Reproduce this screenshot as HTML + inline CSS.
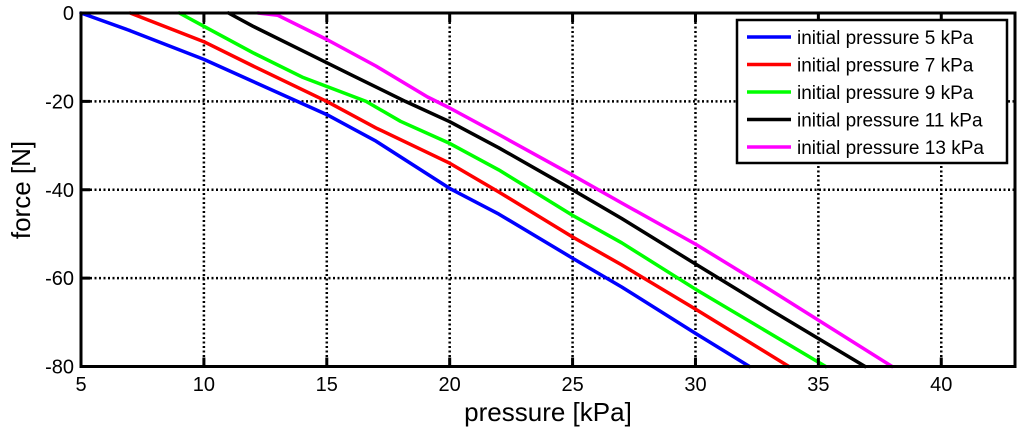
<!DOCTYPE html>
<html><head><meta charset="utf-8"><style>
html,body{margin:0;padding:0;background:#fff;}
svg{display:block;font-family:"Liberation Sans",Arial,sans-serif;}
</style></head><body>
<svg id="chart" width="1024" height="433">
<g id="grid"></g>
<g id="series"></g>
<g id="axes"></g>
<text x="548" y="421" font-size="26" text-anchor="middle">pressure [kPa]</text>
<text transform="translate(30,190) rotate(-90)" font-size="26" text-anchor="middle">force [N]</text>
<g id="legend"></g>
</svg>
<script>
const xTicks=[5,10,15,20,25,30,35,40];
const yTicks=[0,-20,-40,-60,-80];
const seriesNames=["initial pressure 5 kPa","initial pressure 7 kPa","initial pressure 9 kPa","initial pressure 11 kPa","initial pressure 13 kPa"];
const seriesColors=["#0000ff","#ff0000","#00ff00","#000000","#ff00ff"];
const blueX=[5,7,10,12,15,17,20,22,25,27,30,32.2];
const blueY=[0,-4,-10.5,-15.5,-23,-29,-39.7,-45.5,-55.5,-62,-72.5,-80];
const redX=[7,10,12,15,17,20,22,25,27,30,33.8];
const redY=[0,-6.5,-12,-20,-26,-34,-40.5,-50.7,-57,-67,-80];
const greenX=[9,10,12,14,16.6,18,20,22,25,27,30,35.3];
const greenY=[0,-3,-9,-14.5,-20,-24.5,-29.5,-35.5,-45.8,-52,-62.5,-80];
const blackX=[11,12,14,16,18.2,20,22,25,27,30,33,36.9];
const blackY=[0,-3,-8.5,-14,-20,-24.6,-30.5,-40,-46.5,-56.8,-67,-80];
const magentaX=[12.2,13,15,17,19.1,20,22,25,27,30,33,38];
const magentaY=[0,-0.5,-6,-12,-19,-21.5,-27.5,-36.7,-43,-52.3,-62.5,-80];
const allX=[blueX,redX,greenX,blackX,magentaX];
const allY=[blueY,redY,greenY,blackY,magentaY];
const X0=81,X1=1015,Y0=13,Y1=366.5,XMIN=5,XMAX=43,YMIN=-80,YMAX=0;
const sx=v=>X0+(v-XMIN)/(XMAX-XMIN)*(X1-X0);
const sy=v=>Y0+(YMAX-v)/(YMAX-YMIN)*(Y1-Y0);
const NS="http://www.w3.org/2000/svg";
function mk(tag,attrs,parent){const e=document.createElementNS(NS,tag);for(const k in attrs)e.setAttribute(k,attrs[k]);parent.appendChild(e);return e;}
const grid=document.getElementById('grid'),axes=document.getElementById('axes'),ser=document.getElementById('series'),leg=document.getElementById('legend');
xTicks.forEach(t=>{
  const x=sx(t);
  if(t>XMIN){const l=mk('line',{x1:x,y1:Y0,x2:x,y2:Y1,stroke:'#000','stroke-width':2.5,'stroke-dasharray':'2,2.5'},grid);
  
  
  const tk=mk('line',{x1:x,y1:Y1,x2:x,y2:Y1-9,stroke:'#000','stroke-width':3},axes);
  
  
  const tk2=mk('line',{x1:x,y1:Y0,x2:x,y2:Y0+9,stroke:'#000','stroke-width':3},axes);
  
  }
  const tx=mk('text',{x:x,y:391,'font-size':20,'text-anchor':'middle'},axes);tx.textContent=t;
  
  
});
yTicks.forEach(t=>{
  const y=sy(t);
  if(t>YMIN&&t<YMAX){const l=mk('line',{x1:X0,y1:y,x2:X1,y2:y,stroke:'#000','stroke-width':2.5,'stroke-dasharray':'2,2.5'},grid);
  
  
  const tk=mk('line',{x1:X0,y1:y,x2:X0+9,y2:y,stroke:'#000','stroke-width':3},axes);
  
  }
  const tx=mk('text',{x:X0-7,y:y+7,'font-size':20,'text-anchor':'end'},axes);tx.textContent=t;
  
  
});
const box=mk('rect',{x:X0,y:Y0,width:X1-X0,height:Y1-Y0,fill:'none',stroke:'#000','stroke-width':3},axes);


allX.forEach((xs,i)=>{
  const pts=xs.map((v,j)=>sx(v).toFixed(1)+','+sy(allY[i][j]).toFixed(1)).join(' ');
  const p=mk('polyline',{points:pts,fill:'none',stroke:seriesColors[i],'stroke-width':3.5,'stroke-linejoin':'round','stroke-linecap':'round'},ser);
  
  
});
const lb=mk('rect',{x:737,y:20,width:270,height:143,fill:'#fff',stroke:'#000','stroke-width':2.5},leg);


seriesNames.forEach((n,i)=>{
  const y=37+i*27.5;
  const l=mk('line',{x1:747,y1:y,x2:791,y2:y,stroke:seriesColors[i],'stroke-width':3.5},leg);
  
  
  const t=mk('text',{x:797,y:y+7,'font-size':19},leg);t.textContent=n;
  
  
});
</script>
</body></html>
